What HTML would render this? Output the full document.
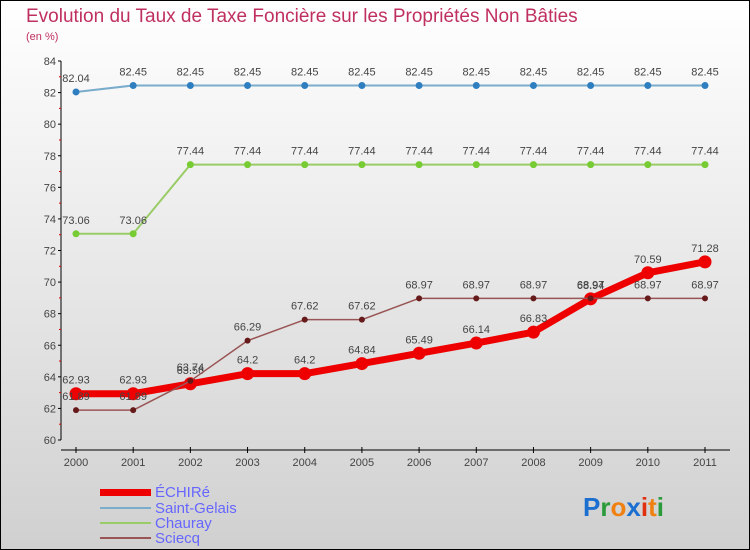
<!DOCTYPE html>
<html><head><meta charset="utf-8"><style>
body{margin:0;width:750px;height:550px;overflow:hidden;}
svg{display:block;font-family:"Liberation Sans",sans-serif;}
</style></head><body>
<svg id="chart" width="750" height="550">
<defs><linearGradient id="bg" x1="0" y1="0" x2="0" y2="1"><stop offset="0" stop-color="#ffffff"/><stop offset="1" stop-color="#d0d0d0"/></linearGradient></defs>
<rect x="0.5" y="0.5" width="749" height="549" fill="url(#bg)" stroke="#000"/>
<text x="26" y="22" font-size="19" fill="#c0305f">Evolution du Taux de Taxe Foncière sur les Propriétés Non Bâties</text>
<text x="26" y="40" font-size="11" fill="#c0305f">(en %)</text>
<g id="axes"></g>
<g id="series"></g>
<g font-size="15" fill="#6666ff">
<rect x="100" y="489" width="51" height="7" fill="#e00"/>
<text x="155" y="497">ÉCHIRé</text>
<rect x="100" y="507" width="51" height="2" fill="#7aaccc"/>
<text x="155" y="513">Saint-Gelais</text>
<rect x="100" y="522" width="51" height="2" fill="#99cc66"/>
<text x="155" y="528">Chauray</text>
<rect x="100" y="537" width="51" height="2" fill="#995555"/>
<text x="155" y="543">Sciecq</text>
</g>
<g font-size="26" font-weight="bold">
<text x="583" y="516"><tspan fill="#1a6fd0">P</tspan><tspan fill="#2a9a3a">r</tspan><tspan fill="#f08010">o</tspan><tspan fill="#1a6fd0">x</tspan><tspan fill="#e03010">i</tspan><tspan fill="#f08010">t</tspan><tspan fill="#2a9a3a">i</tspan></text>
</g>
</svg>
<script>
const years = ["2000","2001","2002","2003","2004","2005","2006","2007","2008","2009","2010","2011"];
const yTicks = [60,62,64,66,68,70,72,74,76,78,80,82,84];
const echire = [62.93,62.93,63.56,64.2,64.2,64.84,65.49,66.14,66.83,68.94,70.59,71.28];
const saintGelais = [82.04,82.45,82.45,82.45,82.45,82.45,82.45,82.45,82.45,82.45,82.45,82.45];
const chauray = [73.06,73.06,77.44,77.44,77.44,77.44,77.44,77.44,77.44,77.44,77.44,77.44];
const sciecq = [61.89,61.89,63.74,66.29,67.62,67.62,68.97,68.97,68.97,68.97,68.97,68.97];

const NS="http://www.w3.org/2000/svg";
const xs=i=>76+i*(705-76)/(years.length-1);
const ys=v=>440-(v-60)*(440-61)/24;
function mk(tag,attrs,parent){const e=document.createElementNS(NS,tag);for(const k in attrs)e.setAttribute(k,attrs[k]);parent.appendChild(e);return e;}
const ax=document.getElementById('axes');
const yl=mk('line',{x1:61,y1:61,x2:61,y2:440,stroke:'#000'},ax);


yTicks.forEach(t=>{
  mk('line',{x1:58,x2:61,y1:ys(t),y2:ys(t),stroke:'#000'},ax);
  if(t<84) mk('line',{x1:59,x2:61,y1:ys(t+1),y2:ys(t+1),stroke:'#d00'},ax);
  const tx=mk('text',{x:56,y:ys(t)+4,'text-anchor':'end','font-size':11,fill:'#444'},ax);
  tx.textContent=t;
  
  
});
const xl=mk('line',{x1:61,y1:450,x2:730,y2:450,stroke:'#000'},ax);


years.forEach((y,i)=>{
  mk('line',{x1:xs(i),x2:xs(i),y1:447,y2:453,stroke:'#000'},ax);
  const tx=mk('text',{x:xs(i),y:466,'text-anchor':'middle','font-size':11,fill:'#444'},ax);
  tx.textContent=y;
  
  
});
const sg=document.getElementById('series');
function series(vals,color,w,r,name,ptFill){
  const g=mk('g',{},sg);
  
  
  mk('polyline',{points:vals.map((v,i)=>xs(i)+','+ys(v)).join(' '),fill:'none',stroke:color,'stroke-width':w,'stroke-linejoin':'round'},g);
  vals.forEach((v,i)=>{
    const c=mk('circle',{cx:xs(i),cy:ys(v),r:r,fill:ptFill||color},g);
    
    
    const t=mk('text',{x:xs(i),y:ys(v)-10,'text-anchor':'middle','font-size':11,fill:'#444'},g);
    t.textContent=v;
    
    
  });
}
series(saintGelais,'#7aaccc',2,3.5,'saint-gelais','#2f7fc0');
series(chauray,'#99cc66',2,3.5,'chauray','#77cc33');
series(echire,'#ee0000',7,6.5,'echire','#ee0000');
series(sciecq,'#995555',1.5,3,'sciecq','#661a1a');
</script>
</body></html>
